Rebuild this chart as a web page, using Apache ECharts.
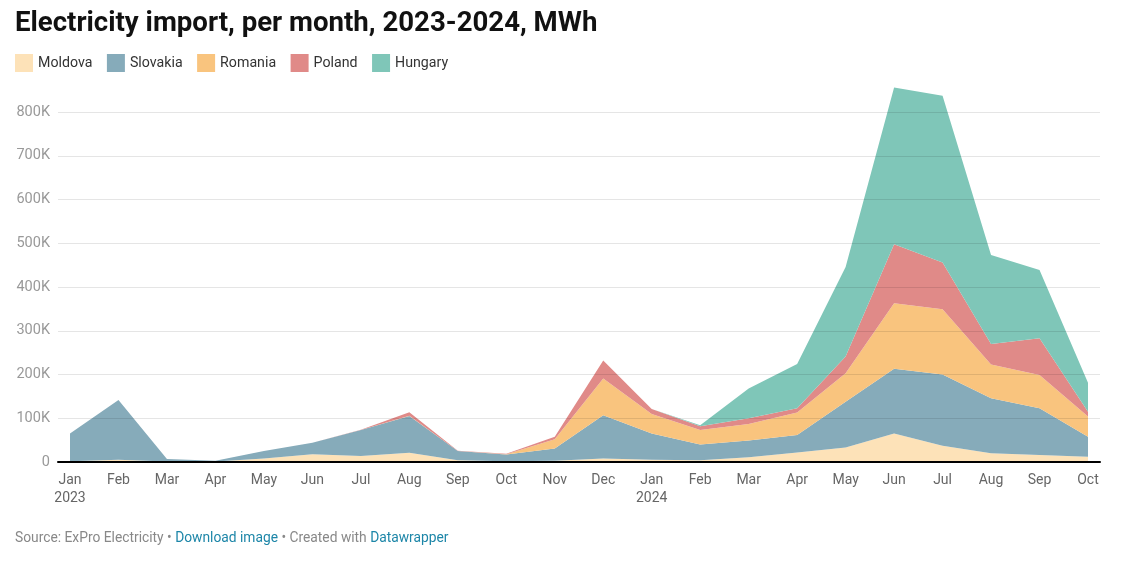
<!DOCTYPE html>
<html>
<head>
<meta charset="utf-8">
<script src="https://cdn.jsdelivr.net/npm/echarts@6/dist/echarts.min.js"></script>
<style>
html,body{margin:0;padding:0;background:#fff;}
#chart{width:1121px;height:570px;}
</style>
</head>
<body>
<div id="chart"></div>
<script>
const months = ['Jan\n2023','Feb','Mar','Apr','May','Jun','Jul','Aug','Sep','Oct','Nov','Dec','Jan\n2024','Feb','Mar','Apr','May','Jun','Jul','Aug','Sep','Oct'];
const moldova  = [2000,5000,1000,1000,8000,18000,14000,21000,4000,2000,3000,8000,5000,4000,11000,22000,33000,65000,37000,20000,16000,12000];
const slovakia = [63000,137000,6000,2000,17000,26000,59000,84000,21000,15000,28000,99000,60000,36000,38000,40000,105000,148000,163000,126000,107000,46000];
const romania  = [0,0,0,0,0,0,0,1000,0,1000,21000,84000,45000,33000,38000,51000,65000,150000,149000,77000,76000,46000];
const poland   = [0,0,0,0,0,0,1000,8000,1000,1000,6000,41000,11000,9000,13000,10000,38000,135000,107000,47000,84000,11000];
const hungary  = [0,0,0,0,0,0,0,0,0,0,0,0,0,2000,68000,101000,205000,358000,381000,203000,156000,66000];

const seriesDefs = [
  {name:'Moldova', data:moldova, color:'#fde2b8'},
  {name:'Slovakia', data:slovakia, color:'#86abba'},
  {name:'Romania', data:romania, color:'#f9c47e'},
  {name:'Poland', data:poland, color:'#e08a88'},
  {name:'Hungary', data:hungary, color:'#7fc6b8'}
];

const chart = echarts.init(document.getElementById('chart'));
chart.setOption({
  animation:false,
  textStyle:{fontFamily:'Roboto'},
  title:{
    text:'Electricity import, per month, 2023-2024, MWh',
    left:10, top:5,
    textStyle:{fontFamily:'Roboto', fontSize:27.6, fontWeight:700, color:'#111'}
  },
  legend:{
    left:15, top:54, padding:0,
    icon:'rect', itemWidth:18, itemHeight:18, itemGap:14.5,
    textStyle:{fontFamily:'Roboto', fontSize:14.2, color:'#333'},
    data: seriesDefs.map(s=>s.name)
  },
  grid:[
    {left:70, right:33, top:112, bottom:108},
    {left:58, right:21, top:112, bottom:108}
  ],
  xAxis:[{
    type:'category', gridIndex:0, boundaryGap:false, data:months,
    axisLine:{show:false}, axisTick:{show:false}, splitLine:{show:false},
    axisLabel:{color:'#666', fontSize:14, lineHeight:18, margin:9, fontFamily:'Roboto', interval:0}
  },{
    type:'value', gridIndex:1, min:0, max:1, z:5,
    axisLine:{show:true, lineStyle:{color:'#000', width:2}},
    axisTick:{show:false}, axisLabel:{show:false}, splitLine:{show:false}
  }],
  yAxis:[{
    type:'value', gridIndex:0, min:0, max:800000, interval:100000,
    axisLabel:{show:false}, axisTick:{show:false}, axisLine:{show:false}, splitLine:{show:false}
  },{
    type:'value', gridIndex:1, min:0, max:800000, interval:100000, z:4,
    axisLabel:{
      formatter: v => v===0 ? '0' : (v/1000)+'K',
      color:'#999', fontSize:14.5, margin:8, fontFamily:'Roboto'
    },
    axisTick:{show:false}, axisLine:{show:false},
    splitLine:{show:true, showMinLine:false, lineStyle:{color:'rgba(0,0,0,0.1)', width:1}}
  }],
  series: seriesDefs.map(s=>({
    name:s.name, type:'line', stack:'total', clip:false,
    xAxisIndex:0, yAxisIndex:0,
    symbol:'none', lineStyle:{width:0}, color:s.color,
    itemStyle:{color:s.color},
    areaStyle:{color:s.color, opacity:1},
    data: s.data
  })),
  graphic:[{
    type:'text', left:15, top:532,
    style:{
      text:'{g|Source: ExPro Electricity • }{b|Download image}{g| • Created with }{b|Datawrapper}',
      rich:{
        g:{fontFamily:'Roboto', fontSize:13.8, fill:'#888'},
        b:{fontFamily:'Roboto', fontSize:13.8, fill:'#1d86a8'}
      }
    }
  }]
});
</script>
</body>
</html>
